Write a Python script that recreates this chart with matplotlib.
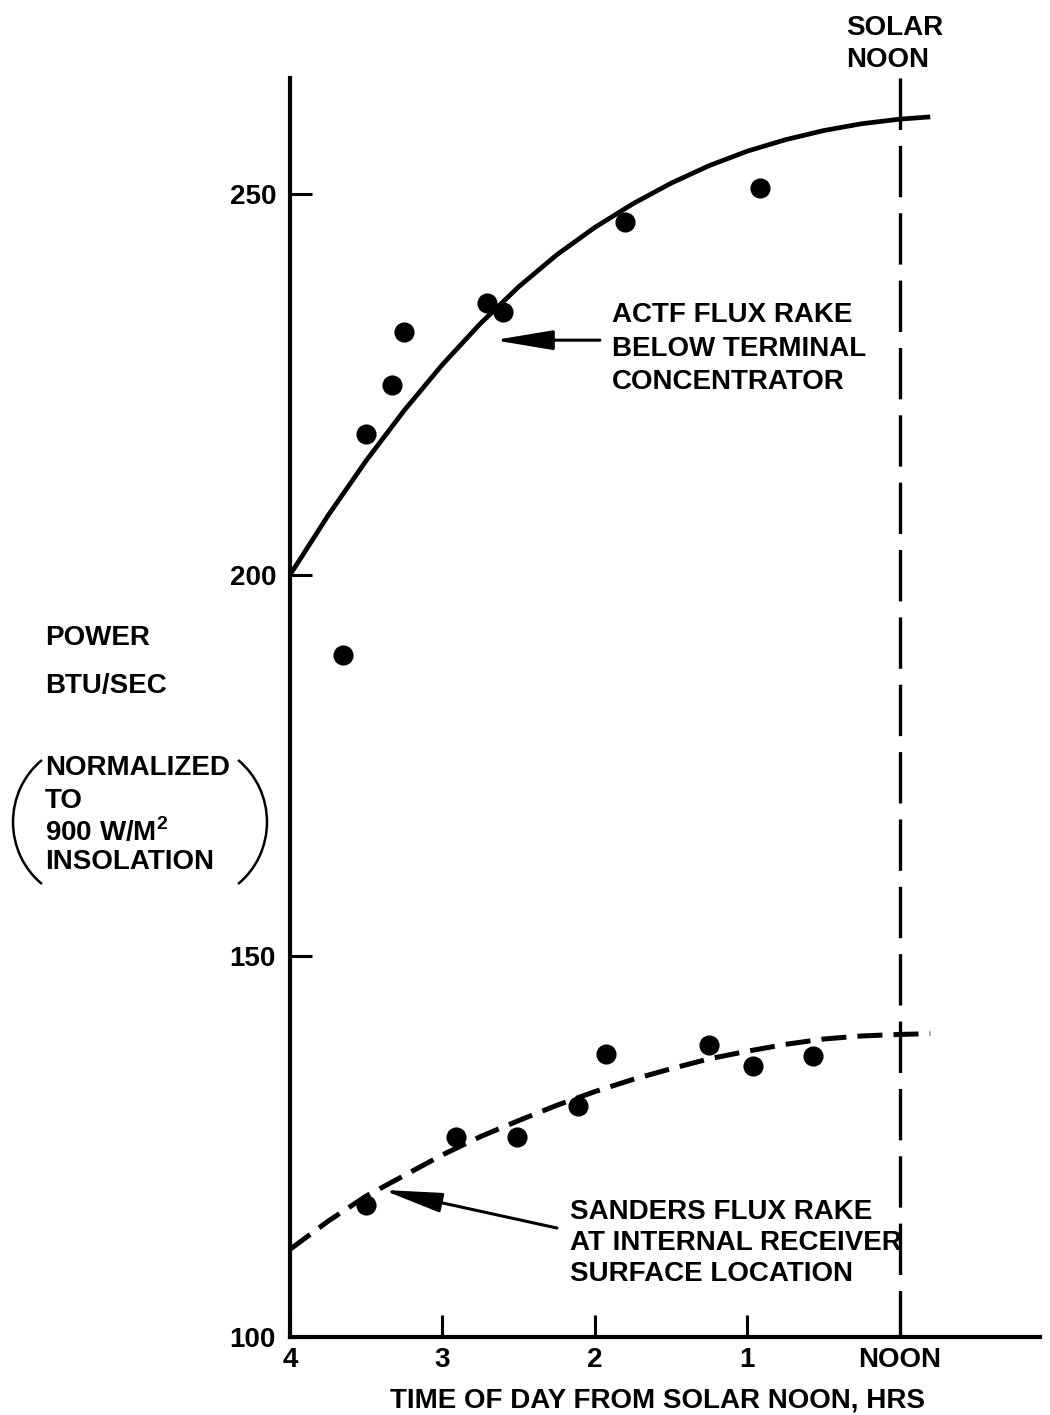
import matplotlib
matplotlib.use("Agg")
import matplotlib.pyplot as plt
from matplotlib.patches import Arc

plt.rcParams['font.family'] = ['Liberation Sans', 'DejaVu Sans']
plt.rcParams['font.weight'] = 'bold'
plt.rcParams['axes.labelweight'] = 'bold'
plt.rcParams['mathtext.fontset'] = 'custom'
plt.rcParams['mathtext.rm'] = 'Liberation Sans:bold'
plt.rcParams['lines.scale_dashes'] = False

# measured points, hours before solar noon vs power (BTU/sec)
actf_hours = [3.65, 3.50, 3.33, 3.25, 2.71, 2.60, 1.80, 0.92]
actf_power = [189.5, 218.5, 224.9, 231.9, 235.7, 234.5, 246.3, 250.8]

sanders_hours = [3.50, 2.91, 2.51, 2.11, 1.93, 1.25, 0.96, 0.57]
sanders_power = [117.3, 126.2, 126.2, 130.3, 137.1, 138.3, 135.6, 136.9]

# faired curves through each set
fit_hours = [4.0, 3.75, 3.5, 3.25, 3.0, 2.75, 2.5, 2.25, 2.0, 1.75,
             1.5, 1.25, 1.0, 0.75, 0.5, 0.25, 0.0, -0.2]
actf_fit = [200.0, 207.8, 215.0, 221.6, 227.6, 233.0, 237.8, 242.0, 245.6, 248.7,
            251.4, 253.7, 255.6, 257.1, 258.3, 259.2, 259.8, 260.1]
sanders_fit = [111.5, 115.2, 118.5, 121.2, 123.9, 126.3, 128.4, 130.4, 132.2, 133.8,
               135.2, 136.5, 137.5, 138.4, 139.1, 139.5, 139.7, 139.8]

x_ticks = [4, 3, 2, 1, 0]
x_ticklabels = ['4', '3', '2', '1', 'NOON']
y_ticks = [100, 150, 200, 250]

FS = 20
W, H = 1050, 1415

fig = plt.figure(figsize=(W / 100, H / 100), dpi=100)
ax = fig.add_axes([290 / W, 1 - 1337 / H, 750 / W, (1337 - 78) / H])
ax.set_xlim(4, -0.92)
ax.set_ylim(100, 265.2)

for side in ['top', 'right']:
    ax.spines[side].set_visible(False)
for side in ['left', 'bottom']:
    ax.spines[side].set_linewidth(3)

ax.set_xticks(x_ticks)
ax.set_xticklabels(x_ticklabels)
ax.set_yticks(y_ticks)
ax.tick_params(axis='both', direction='in', length=16, width=2.2, labelsize=FS)
ax.tick_params(axis='y', pad=10)
ax.tick_params(axis='x', pad=7)

ax.set_xlabel('TIME OF DAY FROM SOLAR NOON, HRS', fontsize=FS, fontweight='bold',
              va='center')
ax.xaxis.set_label_coords((657 - 290) / 750, -(1400 - 1337) / 1259)

# solar noon marker
ax.plot([0, 0], [265.2, 100], color='black', lw=2.4, dashes=(37, 11.5))

ax.plot(fit_hours, actf_fit, color='black', lw=3.4, solid_capstyle='butt')
ax.plot(fit_hours, sanders_fit, color='black', lw=3.6, dashes=(18, 8))

ax.plot(actf_hours, actf_power, 'o', color='black', ms=13.5)
ax.plot(sanders_hours, sanders_power, 'o', color='black', ms=13.5)

arrow = dict(arrowstyle='-|>,head_length=1.8,head_width=0.3', color='black',
             lw=2.2, mutation_scale=20, shrinkA=0, shrinkB=0)
ax.annotate('', xy=(2.662, 230.8), xytext=(1.967, 230.8), arrowprops=arrow)
ax.annotate('', xy=(3.39, 119.3), xytext=(2.249, 114.3), arrowprops=arrow)

ax.text(1.889, 229.7, 'ACTF FLUX RAKE\nBELOW TERMINAL\nCONCENTRATOR',
        fontsize=FS, ha='left', va='center', linespacing=1.37)
ax.text(2.164, 112.3, 'SANDERS FLUX RAKE\nAT INTERNAL RECEIVER\nSURFACE LOCATION',
        fontsize=FS, ha='left', va='center', linespacing=1.25)

fig.text(846 / W, 1 - 44 / H, 'SOLAR\nNOON', fontsize=FS, ha='left', va='center',
         linespacing=1.32)

# y-axis caption
fig.text(45 / W, 1 - 638 / H, 'POWER', fontsize=FS, ha='left', va='center')
fig.text(45 / W, 1 - 686 / H, 'BTU/SEC', fontsize=FS, ha='left', va='center')
caption_lines = ['NORMALIZED', 'TO', '900 W/M$^{2}$', 'INSOLATION']
caption_y = [768, 801, 832, 862]
for line, y in zip(caption_lines, caption_y):
    fig.text(45 / W, 1 - y / H, line, fontsize=FS, ha='left', va='center')

# brackets around the normalisation note
a, b = 75, 78.5
fig.add_artist(Arc((88 / W, 1 - 822 / H), 2 * a / W, 2 * b / H, theta1=135, theta2=225,
                   transform=fig.transFigure, color='black', lw=1.8))
fig.add_artist(Arc((192 / W, 1 - 822 / H), 2 * a / W, 2 * b / H, theta1=-45, theta2=45,
                   transform=fig.transFigure, color='black', lw=1.8))

fig.savefig('out.png', dpi=100)
